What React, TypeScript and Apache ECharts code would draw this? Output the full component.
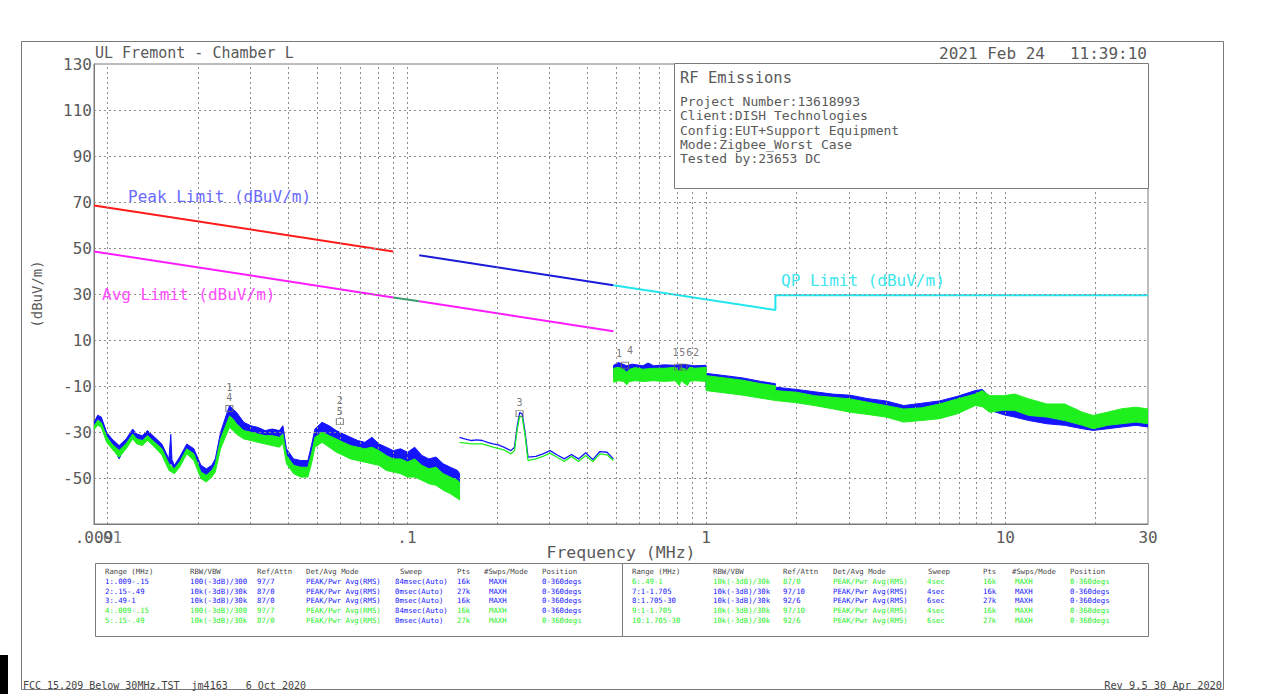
import React, { useEffect, useRef } from 'react';
import * as echarts from 'echarts';

const FONT = '"DejaVu Sans Mono", "Liberation Mono", monospace';
const TXT = '#5a5a5a';
const GRIDC = '#8c8c8c';
const BLUE = '#1414ff';
const GREEN = '#1ef01e';

// ---- axes ----
const yLabelValues = [130, 110, 90, 70, 50, 30, 10, -10, -30, -50];
const yGridValues = [110, 90, 70, 50, 30, 10, -10, -30, -50];
const xGridValues = [
  0.01, 0.02, 0.03, 0.04, 0.05, 0.06, 0.07, 0.08, 0.09,
  0.1, 0.2, 0.3, 0.4, 0.5, 0.6, 0.7, 0.8, 0.9,
  1, 2, 3, 4, 5, 6, 7, 8, 9, 10, 20,
];
const extraXLabels = [{ f: 0.01, t: '.01' }];

// ---- limit lines [MHz, dBuV/m] ----
const peakLimitLow = [[0.009, 68.5], [0.09, 48.5]];
const peakLimitHigh = [[0.11, 46.8], [0.49, 33.8]];
const avgLimitLow = [[0.009, 48.5], [0.09, 28.5]];
const qpLimitGap = [[0.09, 28.5], [0.11, 26.8]];
const avgLimitHigh = [[0.11, 26.8], [0.49, 13.8]];
const qpLimit = [[0.49, 33.8], [1.705, 23.0], [1.705, 29.5], [30, 29.5]];

// ---- traces: bands [MHz, low, high] ----
const blueR1 = [
  [0.00901, -27.3, -25.8], [0.00926, -24.4, -22.7], [0.00952, -26.0, -23.5], [0.00992, -32.3, -30.1],
  [0.01033, -35.2, -33.0], [0.01092, -41.7, -35.9], [0.01153, -35.2, -33.0], [0.01212, -31.6, -28.7],
  [0.01252, -33.0, -30.9], [0.01305, -34.5, -31.6], [0.01359, -31.6, -29.4], [0.01436, -34.5, -32.3],
  [0.01517, -37.3, -35.2], [0.01602, -44.5, -41.7], [0.01625, -43.8, -31.0], [0.0164, -44.0, -42.0],
  [0.0167, -46.7, -44.5], [0.0174, -43.1, -40.9], [0.01838, -37.3, -35.2], [0.01941, -40.2, -37.3],
  [0.0205, -47.4, -44.5], [0.02137, -48.8, -46.0], [0.02227, -47.4, -44.5], [0.02289, -44.5, -41.7],
  [0.02384, -34.5, -30.1], [0.02485, -27.3, -23.0], [0.02554, -23.0, -18.6], [0.02625, -24.4, -20.1],
  [0.02698, -26.5, -21.5], [0.0285, -29.4, -25.8], [0.03011, -30.1, -27.3], [0.03181, -30.9, -28.0],
  [0.03359, -31.6, -29.4], [0.03548, -31.6, -28.7], [0.03748, -32.3, -29.4], [0.03852, -30.1, -27.3],
  [0.03959, -40.2, -37.3], [0.04182, -44.5, -41.7], [0.04417, -45.3, -42.4], [0.04667, -46.0, -42.4],
  [0.04797, -40.0, -35.9], [0.0493, -33.0, -28.7], [0.05208, -30.1, -25.8], [0.05501, -31.6, -27.3],
  [0.0581, -33.7, -29.4], [0.06137, -35.2, -30.9], [0.06483, -36.6, -32.3], [0.06848, -37.3, -33.7],
  [0.07234, -38.1, -34.5], [0.07641, -37.3, -32.3], [0.08071, -39.5, -35.2], [0.08531, -41.7, -36.6],
  [0.09011, -42.4, -38.1], [0.09519, -42.4, -37.3], [0.1006, -44.5, -38.8], [0.1062, -43.8, -36.6],
  [0.1122, -45.3, -40.2], [0.1185, -46.7, -41.7], [0.1252, -47.4, -40.9], [0.1322, -49.6, -43.8],
  [0.1397, -51.0, -45.3], [0.1476, -53.2, -46.7], [0.15, -54.6, -48.0],
];
const greenR4 = [
  [0.00901, -29.0, -27.3], [0.00926, -27.0, -25.0], [0.00952, -28.0, -26.0], [0.00992, -34.5, -32.0],
  [0.01033, -37.3, -35.2], [0.01092, -41.0, -38.0], [0.01153, -37.3, -35.0], [0.01212, -33.0, -30.9],
  [0.01252, -35.2, -33.0], [0.01305, -35.9, -33.7], [0.01359, -33.7, -31.6], [0.01436, -36.6, -34.5],
  [0.01517, -40.0, -37.3], [0.01602, -46.7, -43.8], [0.0167, -48.1, -46.0], [0.0174, -45.3, -43.0],
  [0.01838, -39.5, -37.3], [0.01941, -42.4, -39.5], [0.0205, -50.3, -47.4], [0.02137, -51.7, -48.8],
  [0.02227, -49.6, -46.7], [0.02289, -47.4, -44.0], [0.02384, -37.3, -33.0], [0.02485, -31.6, -27.0],
  [0.02554, -28.0, -23.0], [0.02625, -29.4, -24.4], [0.02698, -31.0, -26.5], [0.0285, -33.0, -29.4],
  [0.03011, -33.7, -30.1], [0.03181, -34.5, -30.9], [0.03359, -35.2, -31.6], [0.03548, -35.9, -31.6],
  [0.03748, -36.6, -32.3], [0.03852, -35.0, -30.9], [0.03959, -43.8, -40.2], [0.04182, -48.1, -44.5],
  [0.04417, -49.6, -45.3], [0.04667, -49.6, -45.3], [0.04797, -43.8, -39.5], [0.0493, -36.6, -32.3],
  [0.05208, -34.5, -30.1], [0.05501, -36.6, -31.6], [0.0581, -38.8, -33.0], [0.06137, -40.2, -34.5],
  [0.06483, -41.7, -35.9], [0.06848, -42.4, -36.6], [0.07234, -43.1, -37.3], [0.07641, -43.8, -36.6],
  [0.08071, -44.5, -38.1], [0.08531, -46.7, -40.2], [0.09011, -47.4, -41.7], [0.09519, -48.1, -41.7],
  [0.1006, -49.6, -43.0], [0.1062, -49.6, -41.7], [0.1122, -51.0, -44.5], [0.1185, -52.5, -46.0],
  [0.1252, -53.2, -45.3], [0.1322, -55.3, -48.1], [0.1397, -56.8, -49.6], [0.1476, -58.9, -51.0],
  [0.15, -59.5, -51.7],
];
// ---- traces: lines [MHz, dBuV/m] ----
const blueR2 = [
  [0.15, -32.3], [0.156, -33.0], [0.1647, -33.7], [0.171, -33.4], [0.1788, -33.7], [0.186, -34.5],
  [0.1941, -35.2], [0.202, -35.6], [0.2108, -36.6], [0.2227, -38.1], [0.2289, -36.6], [0.2339, -27.3],
  [0.2384, -21.5], [0.243, -22.2], [0.2484, -30.1], [0.254, -40.9], [0.2698, -40.6], [0.285, -39.5],
  [0.3011, -38.1], [0.3181, -40.0], [0.3359, -41.7], [0.3548, -39.8], [0.3748, -41.7], [0.3959, -39.0],
  [0.4182, -42.0], [0.4417, -38.5], [0.4667, -38.8], [0.49, -41.7],
];
const greenR5 = [
  [0.15, -34.5], [0.1647, -35.2], [0.1788, -35.2], [0.1941, -36.6], [0.2108, -37.8], [0.2227, -39.5],
  [0.2289, -38.1], [0.2339, -28.8], [0.2384, -23.0], [0.243, -23.7], [0.2484, -31.6], [0.254, -42.4],
  [0.2698, -41.7], [0.285, -40.6], [0.3011, -39.2], [0.3181, -41.0], [0.3359, -42.8], [0.3548, -40.6],
  [0.3748, -42.8], [0.3959, -40.2], [0.4182, -42.8], [0.4417, -39.5], [0.4667, -39.9], [0.49, -42.4],
];
const blueR3 = [
  [0.491, -6.5, -1.0], [0.51, -6.0, 0.2], [0.543, -8.0, -1.2], [0.566, -6.3, -0.5], [0.615, -6.5, -1.2],
  [0.64, -6.3, 0.0], [0.668, -6.5, -1.2], [0.726, -6.3, -0.8], [0.788, -6.0, -1.0], [0.837, -6.3, -0.6],
  [0.916, -6.3, -1.2], [1.0, -6.5, -1.0],
];
const greenR6 = [
  [0.491, -8.4, -2.3], [0.51, -7.7, -1.9], [0.53, -8.0, -2.7], [0.543, -9.5, -4.0], [0.555, -8.0, -2.7],
  [0.58, -7.7, -2.0], [0.615, -8.0, -2.7], [0.668, -7.7, -2.3], [0.726, -8.0, -2.3], [0.788, -7.7, -1.9],
  [0.814, -9.8, -3.5], [0.825, -7.7, -2.0], [0.867, -9.8, -3.0], [0.88, -8.0, -1.9], [0.916, -7.7, -2.3],
  [1.0, -8.0, -1.9],
];
const blueR7 = [
  [1.0, -11.0, -4.5], [1.157, -12.0, -5.5], [1.328, -13.0, -6.5], [1.525, -14.3, -8.0], [1.705, -15.3, -9.0],
];
const greenR9 = [
  [1.0, -12.0, -5.5], [1.157, -13.0, -6.5], [1.328, -14.0, -7.5], [1.525, -15.3, -9.0], [1.705, -16.3, -9.9],
];
const blueR8 = [
  [1.705, -15.0, -10.5], [2.006, -16.0, -11.5], [2.302, -17.5, -12.5], [2.642, -18.5, -13.5],
  [3.031, -20.0, -14.0], [3.478, -21.0, -15.5], [3.992, -22.0, -16.5], [4.58, -23.5, -18.5],
  [5.254, -23.5, -17.5], [6.03, -22.5, -16.5], [6.918, -20.0, -14.5], [7.937, -17.0, -12.0],
  [8.387, -18.0, -11.5], [8.863, -20.5, -14.5], [9.89, -22.5, -16.0], [10.74, -23.5, -15.0],
  [11.99, -25.0, -17.5], [13.76, -26.4, -19.5], [15.79, -27.1, -20.0], [18.12, -28.6, -22.0],
  [19.67, -29.3, -23.5], [21.97, -28.6, -22.0], [24.52, -27.8, -21.0], [27.36, -27.1, -21.5],
  [30, -27.8, -22.0],
];
const greenR10 = [
  [1.705, -16.3, -12.0], [2.006, -17.3, -12.7], [2.302, -18.5, -14.2], [2.642, -19.9, -14.9],
  [3.031, -21.4, -15.6], [3.478, -22.4, -17.1], [3.992, -23.5, -18.5], [4.58, -25.7, -20.0],
  [5.254, -25.0, -19.5], [6.03, -24.2, -17.8], [6.918, -22.1, -15.6], [7.937, -18.5, -13.5],
  [8.387, -19.0, -12.0], [8.863, -21.4, -14.2], [9.89, -20.5, -14.2], [10.74, -20.6, -13.5],
  [11.99, -22.8, -15.6], [13.76, -23.5, -17.8], [15.79, -25.0, -17.8], [18.12, -27.1, -21.4],
  [19.67, -28.6, -22.8], [21.97, -27.1, -21.4], [24.52, -26.4, -19.9], [27.36, -25.7, -19.2],
  [30, -26.4, -20.0],
];

// ---- markers [MHz, dBuV/m] ----
const markerBoxes = [
  [0.0255, -19.8], [0.0597, -25.5], [0.238, -22.0],
  [0.536, -1.0], [0.805, -1.8], [0.84, -1.8],
];
const markerLabels = [
  { f: 0.0255, v: -10.5, t: '1' }, { f: 0.0255, v: -15.2, t: '4' },
  { f: 0.0597, v: -16.2, t: '2' }, { f: 0.0597, v: -20.9, t: '5' },
  { f: 0.238, v: -17.2, t: '3' },
  { f: 0.512, v: 4.0, t: '1' }, { f: 0.557, v: 5.5, t: '4' },
  { f: 0.79, v: 4.5, t: '1' }, { f: 0.833, v: 4.5, t: '5' },
  { f: 0.878, v: 4.5, t: '6' }, { f: 0.926, v: 4.5, t: '2' },
];

// ---- texts ----
const infoLines = [
  'Project Number:13618993',
  'Client:DISH Technologies',
  'Config:EUT+Support Equipment',
  'Mode:Zigbee_Worst Case',
  'Tested by:23653 DC',
];
const tableHeaders = ['Range (MHz)', 'RBW/VBW', 'Ref/Attn', 'Det/Avg Mode', 'Sweep', 'Pts', '#Swps/Mode', 'Position'];
const leftRows = [
  ['1:.009-.15', '100(-3dB)/300', '97/7', 'PEAK/Pwr Avg(RMS)', '84msec(Auto)', '16k', 'MAXH', '0-360degs'],
  ['2:.15-.49', '10k(-3dB)/30k', '87/0', 'PEAK/Pwr Avg(RMS)', '0msec(Auto)', '27k', 'MAXH', '0-360degs'],
  ['3:.49-1', '10k(-3dB)/30k', '87/0', 'PEAK/Pwr Avg(RMS)', '0msec(Auto)', '16k', 'MAXH', '0-360degs'],
  ['4:.009-.15', '100(-3dB)/300', '97/7', 'PEAK/Pwr Avg(RMS)', '84msec(Auto)', '16k', 'MAXH', '0-360degs'],
  ['5:.15-.49', '10k(-3dB)/30k', '87/0', 'PEAK/Pwr Avg(RMS)', '0msec(Auto)', '27k', 'MAXH', '0-360degs'],
];
const rightRows = [
  ['6:.49-1', '10k(-3dB)/30k', '87/0', 'PEAK/Pwr Avg(RMS)', '4sec', '16k', 'MAXH', '0-360degs'],
  ['7:1-1.705', '10k(-3dB)/30k', '97/10', 'PEAK/Pwr Avg(RMS)', '4sec', '16k', 'MAXH', '0-360degs'],
  ['8:1.705-30', '10k(-3dB)/30k', '92/6', 'PEAK/Pwr Avg(RMS)', '6sec', '27k', 'MAXH', '0-360degs'],
  ['9:1-1.705', '10k(-3dB)/30k', '97/10', 'PEAK/Pwr Avg(RMS)', '4sec', '16k', 'MAXH', '0-360degs'],
  ['10:1.705-30', '10k(-3dB)/30k', '92/6', 'PEAK/Pwr Avg(RMS)', '6sec', '27k', 'MAXH', '0-360degs'],
];
const leftRowColors = [BLUE, BLUE, BLUE, GREEN, GREEN];
const rightRowColors = [GREEN, BLUE, BLUE, GREEN, GREEN];

function bandSeries(name: string, pts: number[][], color: string, z: number) {
  return {
    type: 'custom',
    name,
    z,
    silent: true,
    clip: true,
    data: pts,
    encode: { x: 0, y: [1, 2] },
    renderItem: (params: any, api: any) => {
      if (params.dataIndex !== 0) return null;
      const upper = pts.map((p) => api.coord([p[0], p[2]]));
      const lower = pts.slice().reverse().map((p) => api.coord([p[0], p[1]]));
      return {
        type: 'polygon',
        shape: { points: upper.concat(lower) },
        style: { fill: color, stroke: color, lineWidth: 1 },
      };
    },
  };
}

function lineSeries(name: string, pts: number[][], color: string, width: number, z: number) {
  return {
    type: 'line',
    name,
    z,
    data: pts,
    symbol: 'none',
    silent: true,
    lineStyle: { color, width },
  };
}

function txt(x: number, y: number, text: string, size: number, fill: string, align = 'left', extra: any = {}) {
  return {
    type: 'text',
    x,
    y,
    z: 120,
    silent: true,
    style: {
      text,
      fill,
      font: `${size}px ${FONT}`,
      textAlign: align,
      textVerticalAlign: 'middle',
    },
    ...extra,
  };
}

function gline(x1: number, y1: number, x2: number, y2: number, stroke: string, w = 1) {
  return { type: 'line', z: 110, silent: true, shape: { x1, y1, x2, y2 }, style: { stroke, lineWidth: w } };
}

export default function App() {
  const ref = useRef<HTMLDivElement>(null);
  useEffect(() => {
    if (!ref.current) return;
    const chart = echarts.init(ref.current, null, { renderer: 'svg' });

    const leftCols = [105, 190, 257, 306, 395, 457, 489, 542];
    const leftHeadCols = [105, 190, 257, 306, 400, 457, 484, 542];
    const rightCols = [632, 713, 783, 833, 927, 983, 1015, 1070];
    const rightHeadCols = [632, 713, 783, 833, 928, 983, 1012, 1070];
    const rowY = (i: number) => 571.5 + i * 9.8;

    const tableTexts: any[] = [];
    tableHeaders.forEach((h, j) => {
      tableTexts.push(txt(leftHeadCols[j], rowY(0), h, 7.3, '#444'));
      tableTexts.push(txt(rightHeadCols[j], rowY(0), h, 7.3, '#444'));
    });
    leftRows.forEach((r, i) => {
      r.forEach((c, j) => {
        let col = leftRowColors[i];
        if (i === 3 && (j === 4 || j === 7)) col = BLUE;
        if (i === 4 && j === 4) col = BLUE;
        tableTexts.push(txt(leftCols[j], rowY(i + 1), c, 7.3, col));
      });
    });
    rightRows.forEach((r, i) => {
      r.forEach((c, j) => {
        tableTexts.push(txt(rightCols[j], rowY(i + 1), c, 7.3, rightRowColors[i]));
      });
    });

    const option: any = {
      animation: false,
      backgroundColor: '#ffffff',
      grid: {
        left: 94, right: 134, top: 64, bottom: 170,
        show: true, borderColor: '#7a7a7a', borderWidth: 1, backgroundColor: 'transparent',
        containLabel: false, outerBoundsMode: 'none',
      },
      xAxis: {
        type: 'log',
        logBase: 10,
        min: 0.009,
        max: 30,
        name: 'Frequency (MHz)',
        nameLocation: 'middle',
        nameGap: 20,
        nameMoveOverlap: false,
        nameTextStyle: { fontFamily: FONT, fontSize: 16.5, color: TXT, verticalAlign: 'top' },
        axisLine: { show: true, onZero: false, lineStyle: { color: '#7a7a7a', width: 1 } },
        axisTick: { show: false },
        splitLine: { show: false },
        minorTick: { show: false },
        axisLabel: {
          showMinLabel: true,
          showMaxLabel: true,
          hideOverlap: false,
          margin: 5,
          fontFamily: FONT,
          fontSize: 16,
          color: TXT,
          formatter: (v: number) => String(Number(v.toPrecision(6))).replace(/^0\./, '.'),
        },
      },
      yAxis: {
        type: 'value',
        min: -70,
        max: 130,
        interval: 10,
        name: '(dBuV/m)',
        nameLocation: 'middle',
        nameRotate: 90,
        nameGap: 50,
        nameMoveOverlap: false,
        nameTextStyle: { fontFamily: FONT, fontSize: 14, color: TXT },
        axisLine: { show: true, onZero: false, lineStyle: { color: '#7a7a7a', width: 1 } },
        axisTick: { show: false },
        splitLine: { show: false },
        axisLabel: {
          margin: 2,
          fontFamily: FONT,
          fontSize: 16,
          color: TXT,
          showMinLabel: true,
          showMaxLabel: true,
          formatter: (v: number) => (yLabelValues.indexOf(Math.round(v)) >= 0 ? String(Math.round(v)) : ''),
        },
      },
      series: [
        {
          type: 'line',
          name: 'grid',
          z: 1,
          data: [[0.009, -70]],
          symbol: 'none',
          silent: true,
          lineStyle: { opacity: 0 },
          markLine: {
            silent: true,
            symbol: ['none', 'none'],
            label: { show: false },
            lineStyle: { color: GRIDC, type: [2, 3], width: 1 },
            data: [
              ...xGridValues.map((x) => ({ xAxis: x })),
              ...yGridValues.map((y) => ({ yAxis: y })),
            ],
          },
        },
        {
          type: 'scatter',
          name: 'extra x labels',
          z: 2,
          silent: true,
          symbolSize: 0,
          clip: false,
          data: extraXLabels.map((d) => ({ value: [d.f, -70], name: d.t })),
          label: {
            show: true,
            position: 'bottom',
            distance: 5,
            formatter: (p: any) => p.name,
            fontFamily: FONT,
            fontSize: 16,
            color: TXT,
          },
        },
        lineSeries('Peak Limit A', peakLimitLow, '#ff1a1a', 2, 3),
        lineSeries('Peak Limit B', peakLimitHigh, '#1a1ad8', 2, 3),
        lineSeries('Avg Limit A', avgLimitLow, '#ff1aff', 2, 3),
        lineSeries('QP Limit gap', qpLimitGap, '#3a9c6c', 2, 3),
        lineSeries('Avg Limit B', avgLimitHigh, '#ff1aff', 2, 3),
        lineSeries('QP Limit', qpLimit, '#22e6ee', 2, 3),
        bandSeries('Trace 1', blueR1, BLUE, 4),
        bandSeries('Trace 3', blueR3, BLUE, 4),
        bandSeries('Trace 7', blueR7, BLUE, 4),
        bandSeries('Trace 8', blueR8, BLUE, 4),
        lineSeries('Trace 2', blueR2, BLUE, 1.3, 4),
        bandSeries('Trace 4', greenR4, GREEN, 5),
        bandSeries('Trace 6', greenR6, GREEN, 5),
        bandSeries('Trace 9', greenR9, GREEN, 5),
        bandSeries('Trace 10', greenR10, GREEN, 5),
        lineSeries('Trace 5', greenR5, GREEN, 1.3, 5),
        {
          type: 'scatter',
          name: 'markers',
          z: 6,
          silent: true,
          symbol: 'rect',
          symbolSize: [7, 6],
          itemStyle: { color: 'rgba(0,0,0,0)', borderColor: '#666', borderWidth: 1 },
          data: markerBoxes,
        },
        {
          type: 'scatter',
          name: 'marker labels',
          z: 6,
          silent: true,
          symbolSize: 0,
          data: markerLabels.map((m) => ({ value: [m.f, m.v], name: m.t })),
          label: {
            show: true,
            position: 'inside',
            formatter: (p: any) => p.name,
            fontFamily: FONT,
            fontSize: 10,
            color: '#555',
          },
        },
      ],
      graphic: [
        // page frame
        { type: 'rect', z: 110, silent: true, shape: { x: 21.5, y: 41.5, width: 1202, height: 648 }, style: { fill: 'none', stroke: '#7a7a7a', lineWidth: 1 } },
        { type: 'rect', z: 110, silent: true, shape: { x: 0, y: 655, width: 8, height: 39 }, style: { fill: '#000' } },
        // header
        txt(95, 53, 'UL Fremont - Chamber L', 15, TXT),
        txt(1045, 53, '2021 Feb 24', 16, TXT, 'right'),
        txt(1147, 53, '11:39:10', 16, TXT, 'right'),
        // info box
        { type: 'rect', z: 105, silent: true, shape: { x: 674.5, y: 63.5, width: 474, height: 125 }, style: { fill: '#fff', stroke: '#7a7a7a', lineWidth: 1 } },
        txt(680, 78, 'RF Emissions', 15.5, TXT),
        ...infoLines.map((l, i) => txt(680, 101.5 + i * 14.3, l, 13, TXT)),
        // limit labels
        txt(128, 196, 'Peak Limit (dBuV/m)', 16, '#6a6aff'),
        txt(102, 294, 'Avg Limit (dBuV/m)', 16, '#ff4dff'),
        txt(781, 280, 'QP Limit (dBuV/m)', 16, '#3ee6ee'),
        // table
        { type: 'rect', z: 105, silent: true, shape: { x: 95.5, y: 563.5, width: 1053, height: 73 }, style: { fill: '#fff', stroke: '#7a7a7a', lineWidth: 1 } },
        gline(622.5, 563.5, 622.5, 636.5, '#7a7a7a'),
        ...tableTexts,
        // footer
        txt(23, 685, 'FCC 15.209 Below 30MHz.TST  jm4163   6 Oct 2020', 10, '#444'),
        txt(1222, 685, 'Rev 9.5 30 Apr 2020', 10.3, '#444', 'right'),
      ],
    };
    chart.setOption(option);
    return () => chart.dispose();
  }, []);
  return <div ref={ref} style={{ position: 'fixed', left: 0, top: 0, width: 1282, height: 694, background: '#fff' }} />;
}
